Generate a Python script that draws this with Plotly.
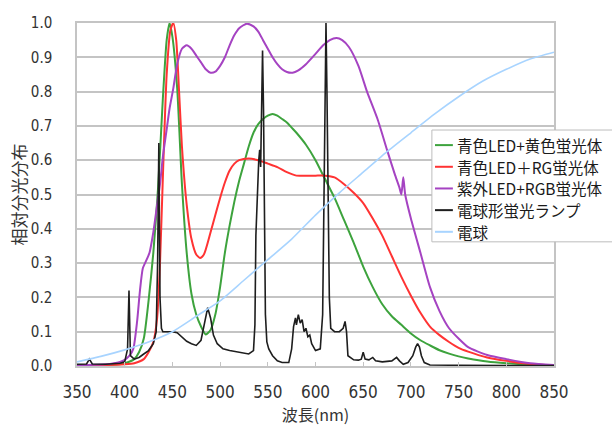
import plotly.graph_objects as go

# Relative spectral distributions of common white light sources (350-850 nm)

# Blue LED + yellow phosphor
wl_yellow = [350, 380, 400, 410, 415, 420, 425, 430, 435, 440, 444, 447, 450, 455, 460,
             465, 470, 475, 480, 485, 490, 495, 500, 505, 510, 515, 520, 525, 530, 535,
             540, 545, 550, 555, 560, 565, 570, 575, 580, 590, 600, 610, 620, 630, 640,
             650, 660, 670, 680, 690, 700, 710, 720, 730, 740, 750, 760, 780, 800, 825, 850]
val_yellow = [0.0, 0.002, 0.008, 0.02, 0.04, 0.08, 0.19, 0.33, 0.52, 0.78, 0.95, 1.0, 0.96, 0.81, 0.53,
              0.33, 0.21, 0.15, 0.115, 0.092, 0.105, 0.15, 0.23, 0.33, 0.41, 0.48, 0.54, 0.59, 0.64, 0.68,
              0.705, 0.72, 0.73, 0.735, 0.73, 0.72, 0.71, 0.695, 0.68, 0.645, 0.60, 0.545, 0.49, 0.425, 0.36,
              0.29, 0.23, 0.18, 0.145, 0.12, 0.095, 0.075, 0.06, 0.046, 0.036, 0.028, 0.022, 0.013, 0.008, 0.004, 0.002]

# Blue LED + red/green phosphors
wl_rg = [350, 380, 400, 410, 420, 425, 430, 434, 437, 440, 444, 448, 451, 454, 457, 460,
         465, 470, 475, 479, 483, 490, 495, 500, 505, 510, 515, 520, 530, 540, 550, 560,
         570, 580, 590, 600, 610, 620, 630, 640, 650, 660, 670, 680, 690, 700, 710, 720,
         730, 740, 750, 760, 780, 800, 825, 850]
val_rg = [0.003, 0.003, 0.005, 0.008, 0.02, 0.04, 0.07, 0.14, 0.3, 0.55, 0.85, 0.98, 1.0, 0.95, 0.8, 0.64,
          0.47, 0.37, 0.325, 0.315, 0.325, 0.39, 0.44, 0.49, 0.535, 0.57, 0.59, 0.60, 0.605, 0.60, 0.59, 0.58,
          0.565, 0.555, 0.555, 0.555, 0.555, 0.55, 0.53, 0.505, 0.475, 0.43, 0.38, 0.32, 0.26, 0.205, 0.155, 0.115,
          0.09, 0.07, 0.053, 0.042, 0.025, 0.015, 0.006, 0.002]

# Near-UV LED + RGB phosphors
wl_rgb = [350, 380, 395, 400, 405, 409, 413, 416, 419, 423, 426, 430, 434, 437, 440, 444, 447,
          451, 455, 460, 465, 470, 475, 480, 485, 490, 495, 500, 505, 510, 515, 520, 528,
          535, 540, 545, 550, 555, 560, 565, 570, 576, 582, 590, 600, 608, 615, 622, 628,
          635, 645, 654, 665, 675, 683, 688, 690, 692, 694, 700, 710, 720, 730, 740, 750,
          760, 780, 800, 825, 850]
val_rgb = [0.002, 0.005, 0.012, 0.018, 0.03, 0.05, 0.13, 0.22, 0.285, 0.31, 0.33, 0.39, 0.47, 0.53, 0.61, 0.69, 0.75,
           0.81, 0.88, 0.925, 0.935, 0.925, 0.905, 0.885, 0.865, 0.855, 0.858, 0.875, 0.9, 0.935, 0.965, 0.985, 0.998,
           0.99, 0.975, 0.95, 0.925, 0.9, 0.88, 0.865, 0.857, 0.855, 0.862, 0.88, 0.91, 0.935, 0.95, 0.956, 0.95,
           0.93, 0.875, 0.80, 0.72, 0.63, 0.56, 0.52, 0.50, 0.55, 0.50, 0.43, 0.33, 0.23, 0.16, 0.11, 0.08,
           0.055, 0.032, 0.02, 0.008, 0.003]

# Compact fluorescent lamp (bulb type)
wl_cfl = [350, 360, 363, 366, 380, 395, 400, 403, 404.5, 406, 410, 415, 420, 425, 430, 433,
          434.5, 435.8, 437, 438.5, 440, 445, 450, 455, 460, 465, 470, 475, 480, 484, 487, 490,
          493, 497, 503, 510, 520, 530, 535, 536.5, 537.5, 539, 540.5, 541.5, 542.5, 543.5, 544.5,
          545.5, 546.5, 547.5, 549, 551, 555, 560, 565, 572, 575, 577, 579, 580, 582, 584, 586,
          588, 590, 592, 594, 596, 600, 605, 607.5, 608.5, 610, 611, 612, 613.5, 614.5, 616, 620,
          625, 629, 631, 632.5, 634, 640, 645, 648, 650, 652, 656, 660, 663, 670, 680, 685,
          688, 692, 697, 702, 705, 707, 709, 711, 714, 720, 750, 800, 850]
val_cfl = [0.005, 0.006, 0.02, 0.006, 0.005, 0.008, 0.012, 0.05, 0.22, 0.03, 0.02, 0.025, 0.035, 0.045, 0.065, 0.1,
           0.3, 0.65, 0.2, 0.11, 0.1, 0.1, 0.1, 0.097, 0.085, 0.072, 0.065, 0.06, 0.075, 0.13, 0.17, 0.14,
           0.09, 0.065, 0.05, 0.045, 0.04, 0.035, 0.045, 0.12, 0.38, 0.52, 0.6, 0.63, 0.58, 0.75, 0.92,
           0.75, 0.4, 0.15, 0.07, 0.05, 0.03, 0.015, 0.01, 0.01, 0.05, 0.115, 0.14, 0.12, 0.15, 0.125, 0.135,
           0.1, 0.11, 0.085, 0.09, 0.065, 0.045, 0.05, 0.15, 0.4, 0.8, 1.0, 0.8, 0.45, 0.2, 0.11, 0.1,
           0.1, 0.11, 0.13, 0.1, 0.03, 0.018, 0.017, 0.02, 0.04, 0.02, 0.018, 0.025, 0.015, 0.012, 0.015, 0.025,
           0.015, 0.005, 0.01, 0.03, 0.055, 0.065, 0.055, 0.03, 0.01, 0.003, 0.002, 0.002, 0.001]

# Incandescent bulb
wl_inc = [350, 375, 400, 425, 450, 475, 500, 525, 550, 575, 600, 625, 650, 675, 700,
          725, 750, 775, 800, 825, 850]
val_inc = [0.012, 0.028, 0.047, 0.07, 0.1, 0.145, 0.19, 0.25, 0.31, 0.37, 0.44, 0.505, 0.565, 0.625, 0.68,
           0.735, 0.785, 0.83, 0.865, 0.895, 0.915]

series = [
    ("青色LED+黄色蛍光体", wl_yellow, val_yellow, "#3da33d", 2, "spline"),
    ("青色LED＋RG蛍光体", wl_rg, val_rg, "#ff3333", 2, "spline"),
    ("紫外LED+RGB蛍光体", wl_rgb, val_rgb, "#a543c2", 2, "spline"),
    ("電球形蛍光ランプ", wl_cfl, val_cfl, "#1e1e1e", 1.6, "linear"),
    ("電球", wl_inc, val_inc, "#a8d4ff", 1.6, "spline"),
]

x_ticks = [350, 400, 450, 500, 550, 600, 650, 700, 750, 800, 850]
y_ticks = [0.0, 0.1, 0.2, 0.3, 0.4, 0.5, 0.6, 0.7, 0.8, 0.9, 1.0]

num_font = "Liberation Sans Narrow, Arial Narrow, DejaVu Sans Condensed, sans-serif"
jp_font = "Noto Sans CJK JP, sans-serif"

fig = go.Figure()
for name, wl, val, color, width, shape in series:
    line = dict(color=color, width=width, shape=shape)
    if shape == "spline":
        line["smoothing"] = 0.6
    fig.add_trace(go.Scatter(x=wl, y=val, mode="lines", name=name, line=line,
                             showlegend=False))

# Key box overlapping the right part of the plot (paper coordinates)
key_left, key_top, key_bottom, key_right = 0.744, 0.688, 0.362, 1.15
row0, row_step = 0.644, 0.0632
sample_x0, sample_x1, text_x = 0.7505, 0.788, 0.793

shapes = [dict(type="rect", xref="paper", yref="paper",
               x0=key_left, x1=key_right, y0=key_bottom, y1=key_top,
               line=dict(color="#bdbdbd", width=1), fillcolor="white", layer="above")]
annotations = []
for i, (name, _, _, color, width, _) in enumerate(series):
    yy = row0 - i * row_step
    shapes.append(dict(type="line", xref="paper", yref="paper",
                       x0=sample_x0, x1=sample_x1, y0=yy, y1=yy,
                       line=dict(color=color, width=2), layer="above"))
    annotations.append(dict(xref="paper", yref="paper", x=text_x, y=yy,
                            xanchor="left", yanchor="middle", showarrow=False,
                            text=name, font=dict(family=jp_font, size=15.5, color="#1a1a1a")))

fig.update_layout(
    width=612, height=426,
    margin=dict(l=77, r=58, t=23, b=60, autoexpand=False),
    paper_bgcolor="white", plot_bgcolor="white",
    showlegend=False,
    shapes=shapes, annotations=annotations,
)

fig.update_xaxes(
    range=[350, 850], tickvals=x_ticks, ticktext=[str(v) for v in x_ticks],
    showgrid=False, showline=True, linecolor="#c4c4c4", linewidth=1.5, mirror=True,
    ticks="inside", ticklen=4, tickcolor="#c4c4c4", tickwidth=1,
    tickfont=dict(family=num_font, size=17, color="#333333"),
    ticklabelstandoff=10,
    zeroline=False,
    title=dict(text="波長(nm)", font=dict(family=jp_font, size=16, color="#333333"), standoff=12),
)
fig.update_yaxes(
    range=[0, 1.0], tickvals=y_ticks, ticktext=[f"{v:.1f}" for v in y_ticks],
    showgrid=True, gridcolor="#c4c4c4", gridwidth=1.5,
    showline=True, linecolor="#c4c4c4", linewidth=1.5, mirror=True,
    ticks="", tickfont=dict(family=num_font, size=15, color="#333333"),
    ticklabelstandoff=20,
    zeroline=False,
    title=dict(text="相対分光分布", font=dict(family=jp_font, size=17, color="#333333"), standoff=0),
)

fig.write_html("out.html")
